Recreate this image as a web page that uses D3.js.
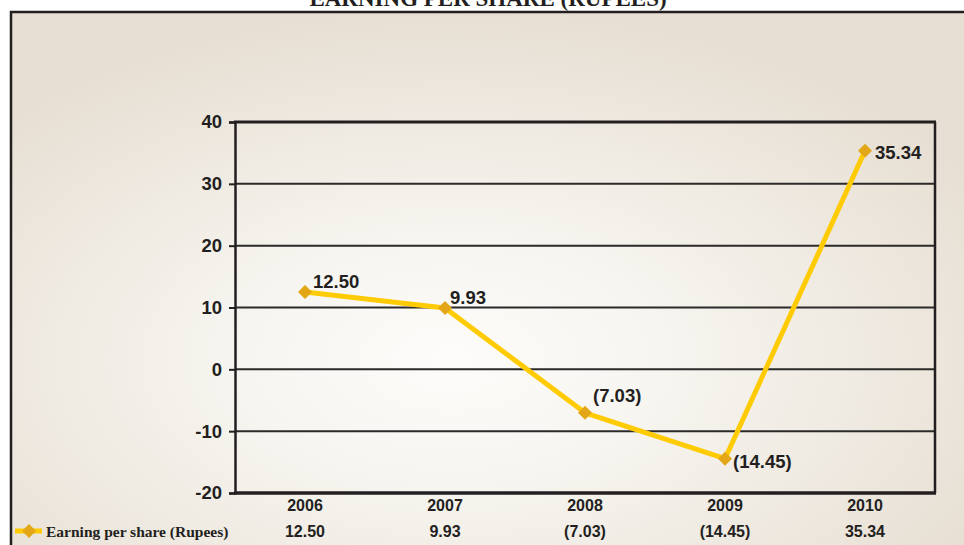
<!DOCTYPE html>
<html lang="en">
<head>
    <meta charset="UTF-8">
    <title>Earning Per Share (Rupees)</title>
    <script src="https://d3js.org/d3.v7.min.js"></script>
    <style>
        body {
            margin: 0;
            background: white;
        }
        svg {
            display: block;
        }
        .tick-label {
            font-family: 'Liberation Sans', Arial, sans-serif;
            font-weight: bold;
            font-size: 18.5px;
            fill: #231f20;
        }
        .cat-label, .table-value {
            font-family: 'Liberation Sans', Arial, sans-serif;
            font-weight: bold;
            font-size: 16px;
            fill: #231f20;
        }
        .point-label {
            font-family: 'Liberation Sans', Arial, sans-serif;
            font-weight: bold;
            font-size: 18.5px;
            fill: #231f20;
        }
        .serif {
            font-family: 'Liberation Serif', 'Times New Roman', serif;
            font-weight: bold;
            fill: #231f20;
        }
    </style>
</head>
<body>
    <svg id="chart" width="964" height="545"></svg>

    <script>
        // data
        const years = ['2006', '2007', '2008', '2009', '2010'];
        const eps = [12.50, 9.93, -7.03, -14.45, 35.34];
        const epsText = ['12.50', '9.93', '(7.03)', '(14.45)', '35.34'];
        const yTicks = [-20, -10, 0, 10, 20, 30, 40];
        const seriesName = 'Earning per share (Rupees)';
        const title = 'EARNING PER SHARE (RUPEES)';

        // where each point label sits relative to its marker
        const labelOffsets = [[8, -4], [5, -4], [8, -11], [8, 9], [10, 8]];

        const width = 964, height = 545;
        const margin = { left: 235, right: 29, top: 122, bottom: 52 };

        const svg = d3.select('#chart');
        const defs = svg.append('defs');

        const grad = defs.append('radialGradient')
            .attr('id', 'bg')
            .attr('cx', '45%').attr('cy', '62%')
            .attr('r', '62%');
        grad.append('stop').attr('offset', '0%').attr('stop-color', '#fdfcfa');
        grad.append('stop').attr('offset', '35%').attr('stop-color', '#f7f5f0');
        grad.append('stop').attr('offset', '100%').attr('stop-color', '#e7dfd3');

        // frame
        svg.append('rect')
            .attr('x', 11).attr('y', 12)
            .attr('width', 980).attr('height', 560)
            .attr('fill', 'url(#bg)')
            .attr('stroke', '#231f20')
            .attr('stroke-width', 2.5);

        // title, cut off at the top like the source page
        svg.append('text')
            .attr('class', 'serif')
            .attr('x', 488).attr('y', 6)
            .attr('text-anchor', 'middle')
            .style('font-size', '23px')
            .text(title);

        const x = d3.scaleBand()
            .domain(years)
            .range([margin.left, width - margin.right]);

        const y = d3.scaleLinear()
            .domain([-20, 40])
            .range([height - margin.bottom, margin.top]);

        // gridlines
        svg.append('g')
            .selectAll('line')
            .data(yTicks.filter(t => t !== -20 && t !== 40))
            .enter().append('line')
            .attr('x1', margin.left).attr('x2', width - margin.right)
            .attr('y1', d => y(d)).attr('y2', d => y(d))
            .attr('stroke', '#2b2a29')
            .attr('stroke-width', 2);

        // plot border: top, right
        svg.append('line')
            .attr('x1', margin.left - 1).attr('x2', width - margin.right + 1)
            .attr('y1', y(40)).attr('y2', y(40))
            .attr('stroke', '#231f20').attr('stroke-width', 3);
        svg.append('line')
            .attr('x1', width - margin.right).attr('x2', width - margin.right)
            .attr('y1', y(40)).attr('y2', y(-20))
            .attr('stroke', '#231f20').attr('stroke-width', 2.5);

        // y axis
        const yAxis = svg.append('g')
            .attr('transform', `translate(${margin.left},0)`)
            .call(d3.axisLeft(y).tickValues(yTicks).tickSize(6).tickPadding(7).tickFormat(d => String(d)));
        yAxis.select('.domain').attr('stroke', '#231f20').attr('stroke-width', 2.5);
        yAxis.selectAll('.tick line').attr('stroke', '#231f20').attr('stroke-width', 2);
        yAxis.selectAll('.tick text').attr('class', 'tick-label').attr('fill', null);

        // bottom axis line
        svg.append('line')
            .attr('x1', margin.left - 1).attr('x2', width - margin.right + 1)
            .attr('y1', y(-20)).attr('y2', y(-20))
            .attr('stroke', '#231f20').attr('stroke-width', 3.5);

        // category labels
        svg.append('g')
            .selectAll('text')
            .data(years)
            .enter().append('text')
            .attr('class', 'cat-label')
            .attr('x', d => x(d) + x.bandwidth() / 2)
            .attr('y', y(-20) + 18)
            .attr('text-anchor', 'middle')
            .text(d => d);

        // data table row
        svg.append('g')
            .selectAll('text')
            .data(epsText)
            .enter().append('text')
            .attr('class', 'table-value')
            .attr('x', (d, i) => x(years[i]) + x.bandwidth() / 2)
            .attr('y', 537)
            .attr('text-anchor', 'middle')
            .text(d => d);

        // line
        const line = d3.line()
            .x((d, i) => x(years[i]) + x.bandwidth() / 2)
            .y(d => y(d));

        svg.append('path')
            .datum(eps)
            .attr('d', line)
            .attr('fill', 'none')
            .attr('stroke', '#ffcb05')
            .attr('stroke-width', 5)
            .attr('stroke-linejoin', 'round');

        const diamond = d3.symbol().type(d3.symbolDiamond2).size(125);

        svg.append('g')
            .selectAll('path')
            .data(eps)
            .enter().append('path')
            .attr('d', diamond)
            .attr('transform', (d, i) => `translate(${x(years[i]) + x.bandwidth() / 2},${y(d)})`)
            .attr('fill', '#e2a616');

        // point labels
        svg.append('g')
            .selectAll('text')
            .data(epsText)
            .enter().append('text')
            .attr('class', 'point-label')
            .attr('x', (d, i) => x(years[i]) + x.bandwidth() / 2 + labelOffsets[i][0])
            .attr('y', (d, i) => y(eps[i]) + labelOffsets[i][1])
            .text(d => d);

        // legend key in the table row
        const key = svg.append('g').attr('transform', 'translate(15,531)');
        key.append('line')
            .attr('x1', 0).attr('x2', 27)
            .attr('y1', 0).attr('y2', 0)
            .attr('stroke', '#ffcb05')
            .attr('stroke-width', 5);
        key.append('path')
            .attr('d', diamond)
            .attr('transform', 'translate(14,0)')
            .attr('fill', '#e2a616');

        svg.append('text')
            .attr('class', 'serif')
            .attr('x', 46).attr('y', 537)
            .style('font-size', '15.5px')
            .text(seriesName);
    </script>
</body>
</html>
